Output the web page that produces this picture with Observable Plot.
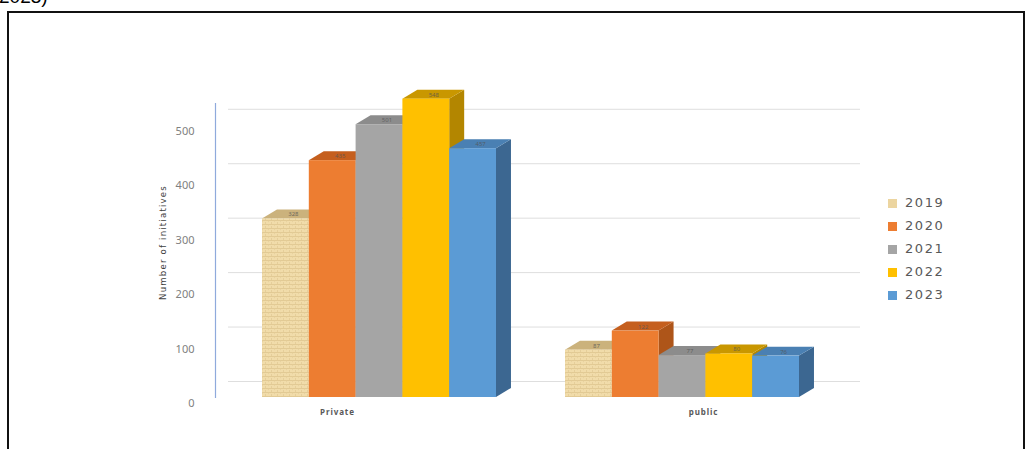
<!DOCTYPE html>
<html>
<head>
<meta charset="utf-8">
<script src="https://cdn.jsdelivr.net/npm/d3@7"></script>
<script src="https://cdn.jsdelivr.net/npm/@observablehq/plot@0.6"></script>
<style>
  html, body { margin: 0; padding: 0; background: #fff; }
  body { width: 1033px; height: 449px; overflow: hidden; position: relative; font-family: "DejaVu Sans", sans-serif; }
  #cap { position: absolute; left: -1px; top: -14px; font-size: 19px; color: #000; font-family: "Liberation Sans", sans-serif; }
  #box { position: absolute; left: 7px; top: 11px; width: 1018px; height: 460px; border: 2px solid #111; box-sizing: border-box; }
  #chart { position: absolute; left: 0; top: 0; }
  #legend { position: absolute; left: 888px; top: 196px; }
  .li { position: absolute; left: 0; height: 14px; white-space: nowrap; }
  .sw { position: absolute; left: 0; top: 3px; width: 9px; height: 9px; }
  .lt { position: absolute; left: 17px; top: -1px; font-size: 13px; letter-spacing: 1.6px; color: #595959; font-family: "DejaVu Sans", sans-serif; }
</style>
</head>
<body>
<svg width="0" height="0" style="position:absolute">
  <defs>
    <pattern id="tex19" width="6" height="4" patternUnits="userSpaceOnUse">
      <rect width="6" height="4" fill="#f1dcaa"/>
      <rect y="0" width="6" height="0.7" fill="#dcc38b"/>
      <rect x="1" y="2" width="0.8" height="2" fill="#e2cb96"/>
      <rect x="4" y="0.7" width="0.8" height="1.5" fill="#e6d09c"/>
    </pattern>
    <pattern id="tex19s" width="6" height="4" patternUnits="userSpaceOnUse">
      <rect width="6" height="4" fill="#bfa46b"/>
      <rect y="0" width="6" height="0.7" fill="#a88e58"/>
    </pattern>
  </defs>
</svg>
<div id="cap">2023)</div>
<div id="box"></div>
<div id="chart"></div>
<div id="legend"></div>
<script>
// ---- data ----
const categories = ["Private", "public"];
const years = ["2019", "2020", "2021", "2022", "2023"];
const privateValues = [328, 435, 501, 548, 457];
const publicValues = [87, 122, 77, 80, 76];
const yTicks = [0, 100, 200, 300, 400, 500];
const yTitle = "Number of initiatives";

// ---- styles ----
const frontColors = ["url(#tex19)", "#ed7d31", "#a5a5a5", "#ffc000", "#5b9bd5"];
const topColors = ["#cbb27c", "#c55f1e", "#8c8c8c", "#c99700", "#4a80b3"];
const sideColors = ["url(#tex19s)", "#ae5519", "#7b7b7b", "#b38600", "#3c6791"];
const legendColors = ["#ecd5a0", "#ed7d31", "#a5a5a5", "#ffc000", "#5b9bd5"];
const ddx = 0.32;   // 3-D depth along x (bar widths)
const ddy = 16.5;   // 3-D depth along y (value units)

const rows = [];
categories.forEach((cat, c) => {
  const vals = c === 0 ? privateValues : publicValues;
  years.forEach((year, i) => rows.push({cat, year, i, value: vals[i]}));
});
const sidePts = rows.flatMap(d => [
  {...d, px: d.i + 1, y1: 0, y2: d.value},
  {...d, px: d.i + 1 + ddx, y1: ddy, y2: d.value + ddy}
]);
const topPts = rows.flatMap(d => [
  {...d, px: d.i, y1: d.value, y2: d.value},
  {...d, px: d.i + ddx, y1: d.value, y2: d.value + ddy},
  {...d, px: d.i + 1, y1: d.value, y2: d.value + ddy},
  {...d, px: d.i + 1 + ddx, y1: d.value + ddy, y2: d.value + ddy}
]);
const first = categories[0];
const tickRows = yTicks.map(v => ({cat: first, v}));

const chart = Plot.plot({
  width: 1033,
  height: 449,
  marginLeft: 262,
  marginRight: 234,
  marginTop: 103,
  marginBottom: 52,
  style: {background: "transparent", overflow: "visible"},
  fx: {domain: categories, paddingInner: 0.228, paddingOuter: 0, axis: null, label: null},
  x: {domain: [0, 5], axis: null},
  y: {domain: [0, 540], axis: null},
  color: {type: "identity"},
  marks: [
    Plot.ruleY(tickRows, {fx: "cat", y: "v", dy: -16, insetLeft: -34, insetRight: -364, stroke: "#dedede", strokeWidth: 1}),
    Plot.frame({anchor: "left", facet: "super", dx: -47, stroke: "#8faadc", strokeWidth: 1.2}),
    Plot.text(tickRows, {fx: "cat", y: "v", text: d => String(d.v), frameAnchor: "left", textAnchor: "end", dx: -68, dy: 6, fontSize: 11, fill: "#808080"}),
    Plot.text([{cat: first, t: yTitle}], {fx: "cat", text: "t", frameAnchor: "left", textAnchor: "middle", rotate: -90, dx: -100, dy: -8, fontSize: 9.5, fill: "#404040", fontFamily: "'Liberation Sans Narrow', 'DejaVu Sans Condensed', sans-serif"}),
    Plot.area(sidePts, {fx: "cat", x1: "px", y1: "y1", y2: "y2", z: d => d.cat + d.year, fill: d => sideColors[d.i], curve: "linear"}),
    Plot.area(topPts, {fx: "cat", x1: "px", y1: "y1", y2: "y2", z: d => d.cat + d.year, fill: d => topColors[d.i], curve: "linear"}),
    Plot.rect(rows, {fx: "cat", x1: "i", x2: d => d.i + 1, y1: 0, y2: "value", fill: d => frontColors[d.i]}),
    Plot.text(rows, {fx: "cat", x: d => d.i + 0.5 + ddx / 2, y: d => d.value + ddy / 2, text: d => String(d.value), fontSize: 6, fill: "#555", fillOpacity: 0.8}),
    Plot.text(["Private"], {fx: d => d, frameAnchor: "bottom", dx: -42, dy: 17, fontSize: 8, fontWeight: "bold", fill: "#595959"}),
    Plot.text(["public"], {fx: d => d, frameAnchor: "bottom", dx: 21, dy: 17, fontSize: 8, fontWeight: "bold", fill: "#595959"})
  ]
});
chart.querySelectorAll("text").forEach(t => {
  if (t.textContent === "Private" || t.textContent === "public") t.setAttribute("letter-spacing", "0.9");
  if (t.textContent === yTitle) t.setAttribute("letter-spacing", "1.2");
});
document.getElementById("chart").appendChild(chart);

// legend (HTML)
const legend = document.getElementById("legend");
years.forEach((y, i) => {
  const item = document.createElement("div");
  item.className = "li";
  item.style.top = (i * 23) + "px";
  item.innerHTML = `<span class="sw" style="background:${legendColors[i]}"></span><span class="lt">${y}</span>`;
  legend.appendChild(item);
});
</script>
</body>
</html>
